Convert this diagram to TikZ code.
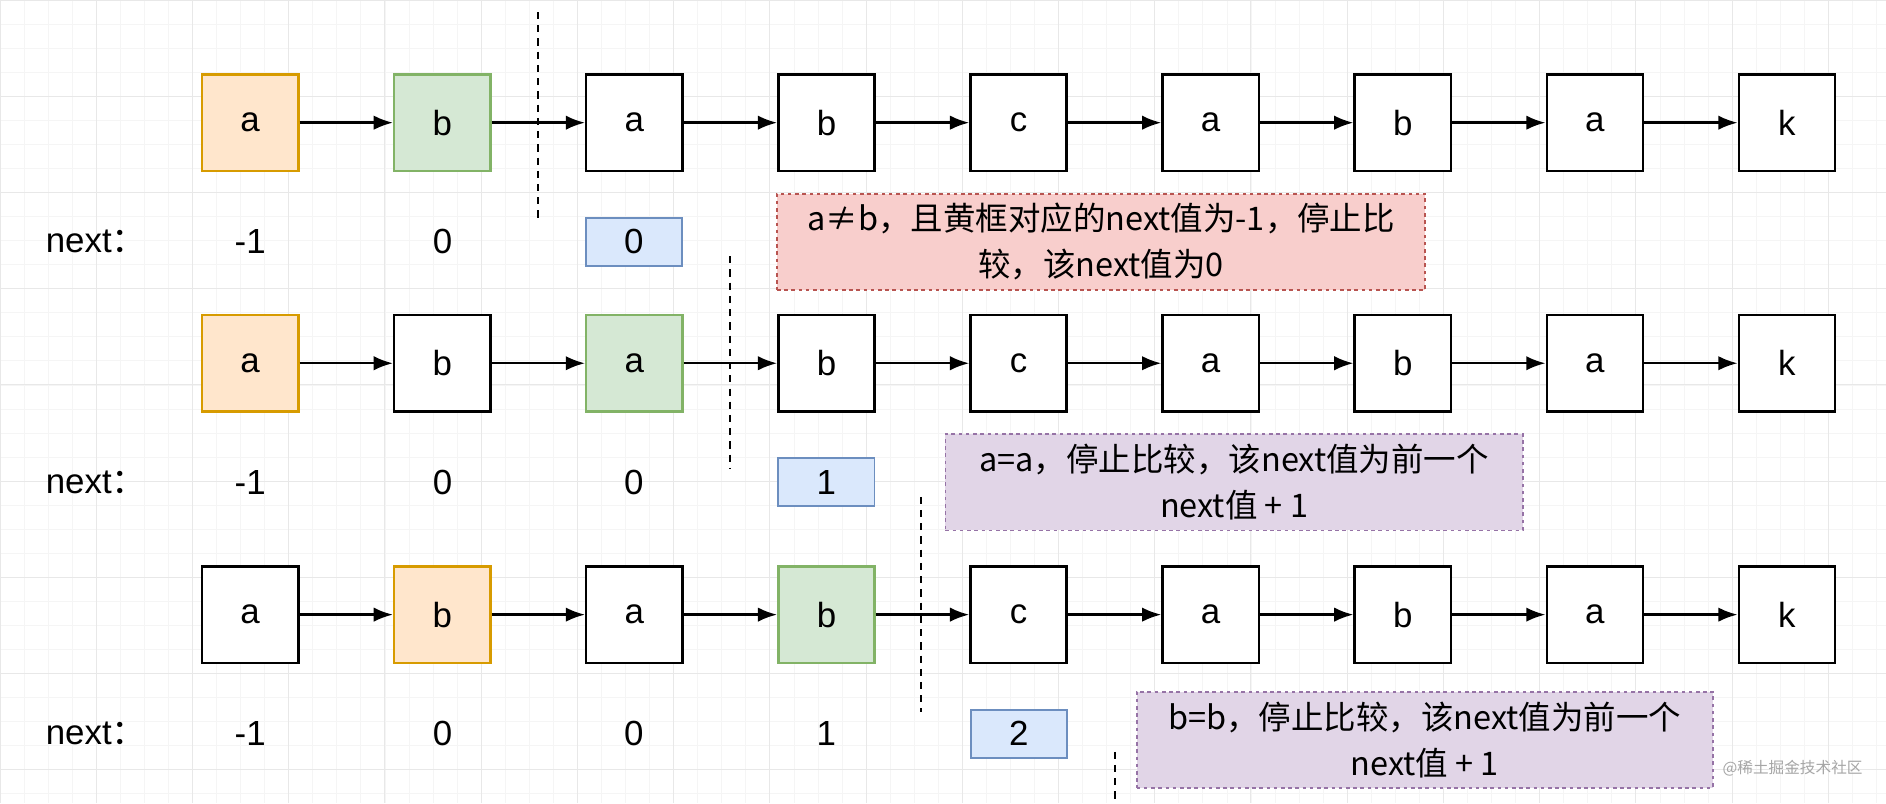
\documentclass[tikz,border=0pt]{standalone}
\usepackage{fontspec}
\setmainfont{Liberation Sans}
\newfontfamily\cjk{Noto Sans CJK SC}
\begin{document}
\begin{tikzpicture}[x=1pt,y=-1pt,
  box/.style={draw=black,line width=2pt,fill=white,minimum width=80pt,minimum height=80pt,inner sep=0pt,font=\fontsize{29}{32}\selectfont},
  val/.style={font=\fontsize{29}{32}\selectfont},
  blu/.style={draw=blue!40!gray,line width=1.5pt,fill=blue!12,minimum width=80pt,minimum height=40pt,inner sep=0pt,font=\fontsize{29}{32}\selectfont},
  note/.style={dashed,line width=1.5pt,minimum height=80pt,inner sep=2pt,align=center,font=\cjk\fontsize{27}{38}\selectfont},
  arr/.style={-{Latex[length=16pt,width=12pt]},line width=2pt},
  dl/.style={dashed,line width=1.5pt,dash pattern=on 6pt off 5pt}]
\usetikzlibrary{arrows.meta}
\definecolor{og}{HTML}{FFE6CC}\definecolor{ogd}{HTML}{D79B00}
\definecolor{gn}{HTML}{D5E8D4}\definecolor{gnd}{HTML}{82B366}
\definecolor{bl}{HTML}{DAE8FC}\definecolor{bld}{HTML}{6C8EBF}
\definecolor{rd}{HTML}{F8CECC}\definecolor{rdd}{HTML}{B85450}
\definecolor{pu}{HTML}{E1D5E7}\definecolor{pud}{HTML}{9673A6}
\useasboundingbox (0,0) rectangle (1568,668);
\fill[white] (0,0) rectangle (1568,668);
\draw[black!4,line width=0.6pt,step=20pt] (0,0) grid (1568,668);
\draw[black!9,line width=0.8pt,step=80pt] (0,0) grid (1568,668);
\foreach \r/\y/\o/\g in {1/102/0/1,2/302/0/2,3/511/1/3}{
  \foreach \i/\t in {0/a,1/b,2/a,3/b,4/c,5/a,6/b,7/a,8/k}{
    \ifnum\i=\o
      \node[box,fill=og,draw=ogd] (n\r\i) at ({208+159.7*\i},\y) {\t};
    \else\ifnum\i=\g
      \node[box,fill=gn,draw=gnd] (n\r\i) at ({208+159.7*\i},\y) {\t};
    \else
      \node[box] (n\r\i) at ({208+159.7*\i},\y) {\t};
    \fi\fi
  }
  \foreach \i [evaluate=\i as \j using int(\i+1)] in {0,...,7}
    \draw[arr] (n\r\i) -- (n\r\j);
}
% next rows
\node[val] (l1) at (80,201) {next\cjk：};
\node[val] (v10) at (208,201) {-1};
\node[val] (v11) at (368,201) {0};
\node[blu,fill=bl,draw=bld] (v12) at (527,201) {0};
\node[val] (l2) at (80,401) {next\cjk：};
\node[val] (v20) at (208,401) {-1};
\node[val] (v21) at (368,401) {0};
\node[val] (v22) at (527,401) {0};
\node[blu,fill=bl,draw=bld] (v23) at (687,401) {1};
\node[val] (l3) at (80,610) {next\cjk：};
\node[val] (v30) at (208,610) {-1};
\node[val] (v31) at (368,610) {0};
\node[val] (v32) at (527,610) {0};
\node[val] (v33) at (687,610) {1};
\node[blu,fill=bl,draw=bld] (v34) at (847,610) {2};
% dashed separators
\coordinate (d1a) at (447,10); \coordinate (d1b) at (447,182);
\coordinate (d2a) at (607,213); \coordinate (d2b) at (607,390);
\coordinate (d3a) at (766,413); \coordinate (d3b) at (766,592);
\coordinate (d4a) at (927,625); \coordinate (d4b) at (927,668);
\draw[dl] (d1a) -- (d1b); \draw[dl] (d2a) -- (d2b);
\draw[dl] (d3a) -- (d3b); \draw[dl] (d4a) -- (d4b);
% notes
\node[note,fill=rd,draw=rdd,minimum width=539pt] (m1) at (915.5,201) {a≠b，且黄框对应的next值为-1，停止比\\较，该next值为0};
\node[note,fill=pu,draw=pud,minimum width=480pt] (m2) at (1026,401) {a=a，停止比较，该next值为前一个\\next值 + 1};
\node[note,fill=pu,draw=pud,minimum width=479pt] (m3) at (1184.5,615) {b=b，停止比较，该next值为前一个\\next值 + 1};
\node[font=\cjk\fontsize{13}{15}\selectfont,text=black!35,anchor=east] (wm) at (1552,639) {@稀土掘金技术社区};
\end{tikzpicture}
\end{document}
